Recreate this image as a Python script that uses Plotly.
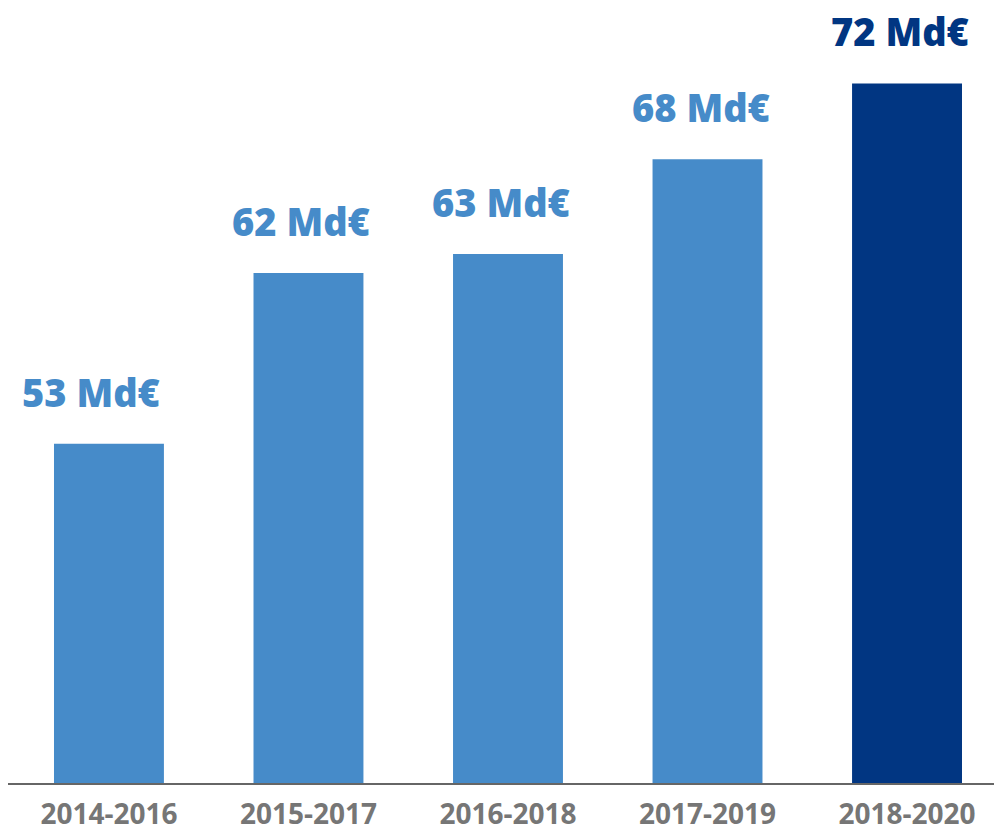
import plotly.graph_objects as go

periods = ["2014-2016", "2015-2017", "2016-2018", "2017-2019", "2018-2020"]
values = [53, 62, 63, 68, 72]
labels = ["53 Md€", "62 Md€", "63 Md€", "68 Md€", "72 Md€"]
light = "#468BC9"
dark = "#013682"
colors = [light, light, light, light, dark]

fig = go.Figure(go.Bar(
    x=periods, y=values, marker=dict(color=colors, line=dict(width=0)),
    hoverinfo="skip",
))

for i, (p, v, t, c) in enumerate(zip(periods, values, labels, colors)):
    fig.add_annotation(x=p, y=v, text=t, showarrow=False,
                       yanchor="bottom", yshift=25, xshift=-18 if i == 0 else -7,
                       borderpad=0,
                       font=dict(family="Open Sans", size=38, color=c, weight=800))

fig.update_layout(
    width=994, height=827,
    margin=dict(l=0, r=0, t=0, b=52, autoexpand=False),
    paper_bgcolor="white", plot_bgcolor="white",
    bargap=0.449, showlegend=False,
    xaxis=dict(range=[-0.506, 4.476], showline=True, linecolor="#666666", linewidth=2,
               ticks="", showgrid=False, ticklabelstandoff=5, automargin=False,
               tickfont=dict(family="Open Sans", size=28, color="#767676", weight="bold")),
    yaxis=dict(range=[35.1, 75.98], visible=False, showgrid=False, zeroline=False,
               automargin=False),
)

fig.write_html("out.html")
